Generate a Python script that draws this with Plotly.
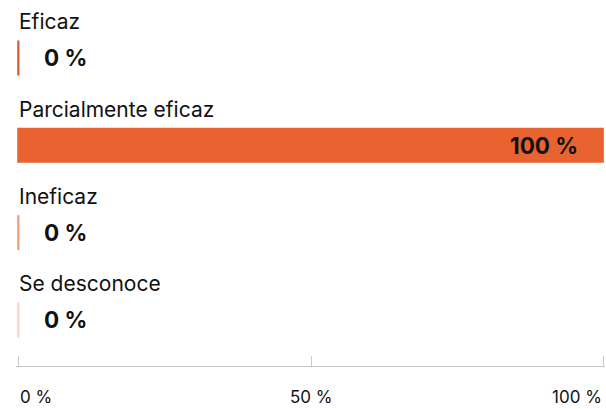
import plotly.graph_objects as go

# Data
categories = ["Eficaz", "Parcialmente eficaz", "Ineficaz", "Se desconoce"]
values = [0, 100, 0, 0]
colors = ["#D4572C", "#E8632F", "#F29C77", "#F9D2BF"]
tick_vals = [0, 50, 100]
tick_text = ["0 %", "50 %", "100 %"]

FONT = "Inter"
TEXT_COLOR = "#111111"

fig = go.Figure()

# Bars
fig.add_trace(
    go.Bar(
        x=values,
        y=list(range(len(categories))),
        orientation="h",
        marker=dict(color=colors, line=dict(width=0)),
        width=0.4,
        hoverinfo="skip",
        showlegend=False,
    )
)

# thin base line so empty bars stay visible
fig.add_trace(
    go.Scatter(
        x=[0] * len(categories),
        y=list(range(len(categories))),
        mode="markers",
        marker=dict(
            symbol="line-ns-open",
            size=25,
            color=colors,
            line=dict(color=colors, width=2.2),
        ),
        hoverinfo="skip",
        showlegend=False,
    )
)

annotations = []
for i, (cat, val) in enumerate(zip(categories, values)):
    # category label above the bar
    annotations.append(
        dict(
            x=0, y=i, xref="x", yref="y",
            text=cat, showarrow=False,
            xanchor="left", yanchor="middle",
            yshift=36, xshift=-1,
            font=dict(family=FONT, size=21, color=TEXT_COLOR),
        )
    )
    # value label
    if val >= 20:
        annotations.append(
            dict(
                x=val, y=i, xref="x", yref="y",
                text=f"<b>{val} %</b>", showarrow=False,
                xanchor="right", yanchor="middle", xshift=-24,
                font=dict(family=FONT, size=22.5, color=TEXT_COLOR),
            )
        )
    else:
        annotations.append(
            dict(
                x=val, y=i, xref="x", yref="y",
                text=f"<b>{val} %</b>", showarrow=False,
                xanchor="left", yanchor="middle", xshift=24,
                font=dict(family=FONT, size=22.5, color=TEXT_COLOR),
            )
        )

# axis tick labels (first left, middle centered, last right aligned)
anchors = ["left", "center", "right"]
for tv, tt, anc in zip(tick_vals, tick_text, anchors):
    annotations.append(
        dict(
            x=tv, y=0, xref="x", yref="paper",
            text=tt, showarrow=False,
            xanchor=anc, yanchor="middle", yshift=-31,
            font=dict(family=FONT, size=17, color=TEXT_COLOR),
        )
    )

fig.update_layout(
    width=606,
    height=409,
    margin=dict(l=15.66, r=0.85, t=0, b=43),
    paper_bgcolor="white",
    plot_bgcolor="white",
    annotations=annotations,
    font=dict(family=FONT, color=TEXT_COLOR),
)

fig.update_xaxes(
    range=[-0.4, 100.2],
    tickvals=tick_vals,
    showticklabels=False,
    showgrid=False,
    zeroline=False,
    showline=True,
    linecolor="#C8C8C8",
    linewidth=1,
    ticks="inside",
    ticklen=10,
    tickcolor="#C8C8C8",
    tickwidth=1,
    fixedrange=True,
)
fig.update_yaxes(
    range=[3.527, -0.664],
    showticklabels=False,
    showgrid=False,
    zeroline=False,
    showline=False,
    fixedrange=True,
)

fig.write_html(
    "out.html",
    config=dict(displayModeBar=False),
    post_script="document.body.style.margin='0';document.body.style.overflow='hidden';",
)
